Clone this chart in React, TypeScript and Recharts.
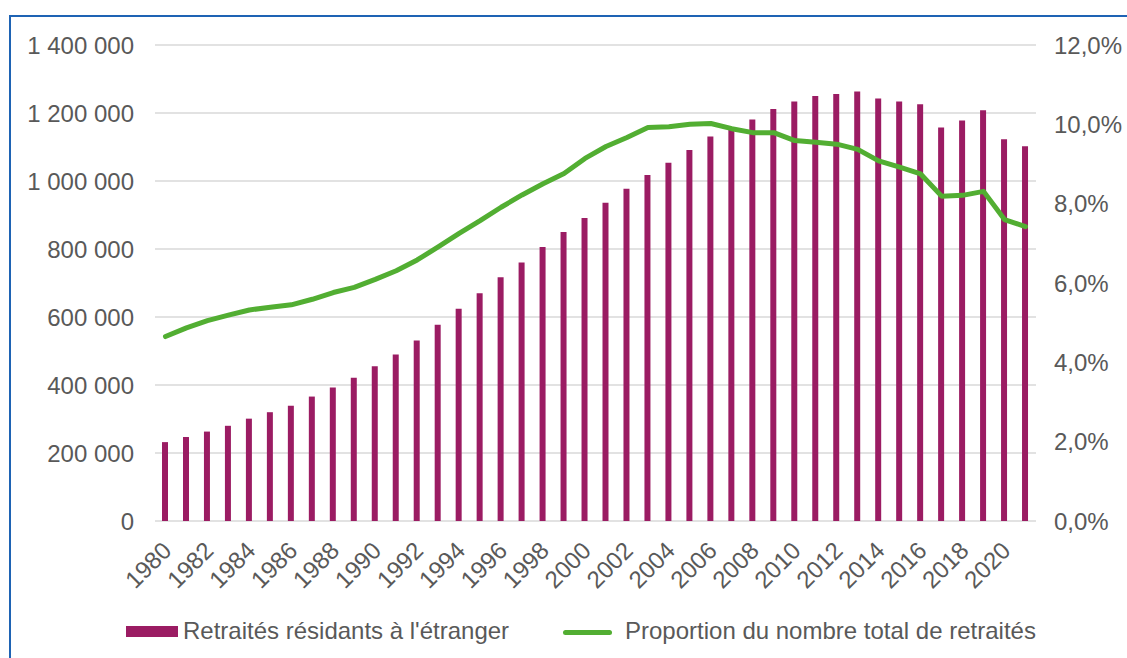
import { Bar, CartesianGrid, ComposedChart, Line, XAxis, YAxis } from 'recharts'

const years = [
  '1980', '1981', '1982', '1983', '1984', '1985', '1986', '1987', '1988', '1989',
  '1990', '1991', '1992', '1993', '1994', '1995', '1996', '1997', '1998', '1999',
  '2000', '2001', '2002', '2003', '2004', '2005', '2006', '2007', '2008', '2009',
  '2010', '2011', '2012', '2013', '2014', '2015', '2016', '2017', '2018', '2019',
  '2020', '2021',
]

// Retraités résidants à l'étranger
const retirees = [
  232000, 247000, 263000, 280000, 301000, 320000, 339000, 366000, 393000, 421000,
  455000, 490000, 531000, 577000, 624000, 670000, 717000, 760000, 806000, 850000,
  891000, 936000, 977000, 1018000, 1054000, 1091000, 1131000, 1153000, 1181000, 1212000,
  1234000, 1250000, 1256000, 1263000, 1243000, 1234000, 1226000, 1157000, 1178000, 1208000,
  1123000, 1102000,
]

// Proportion du nombre total de retraités (%)
const share = [
  4.65, 4.87, 5.05, 5.19, 5.32, 5.39, 5.45, 5.59, 5.76, 5.89,
  6.09, 6.31, 6.58, 6.91, 7.25, 7.57, 7.91, 8.22, 8.5, 8.76,
  9.14, 9.44, 9.67, 9.92, 9.94, 10.0, 10.02, 9.89, 9.79, 9.79,
  9.59, 9.55, 9.5, 9.37, 9.08, 8.92, 8.75, 8.19, 8.21, 8.31,
  7.6, 7.42,
]

const leftTicks = [0, 200000, 400000, 600000, 800000, 1000000, 1200000, 1400000]
const rightTicks = [0, 2, 4, 6, 8, 10, 12]

const data = years.map((year, i) => ({ year, retirees: retirees[i], share: share[i] }))

const BAR = '#9B1C63'
const GREEN = '#52AE32'
const TEXT = '#595959'
const FONT = '"Liberation Sans", Arial, sans-serif'
const FS = 24

const formatCount = (v: number) => String(v).replace(/\B(?=(\d{3})+(?!\d))/g, ' ')
const formatPct = (v: number) => `${v.toFixed(1).replace('.', ',')}%`

function YearTick({ x, y, payload }: any) {
  return (
    <g transform={`translate(${x + 7.5},${y + 31})`}>
      <text textAnchor="end" transform="rotate(-45)" fill={TEXT} fontSize={FS} fontFamily={FONT}>
        {payload.value}
      </text>
    </g>
  )
}

const legendText = {
  position: 'absolute' as const,
  top: 619,
  fontSize: FS,
  lineHeight: '24px',
  color: TEXT,
  whiteSpace: 'nowrap' as const,
}

export default function App() {
  return (
    <div
      style={{
        position: 'absolute',
        left: 0,
        top: 0,
        width: 1127,
        height: 658,
        overflow: 'hidden',
        background: '#ffffff',
        fontFamily: FONT,
      }}
    >
      <div
        style={{
          position: 'absolute',
          left: 9,
          top: 15,
          width: 1118,
          height: 643,
          boxSizing: 'border-box',
          borderLeft: '2px solid #1E63B4',
          borderTop: '2px solid #1E63B4',
        }}
      />
      <div style={{ position: 'absolute', left: 0, top: 0 }}>
        <ComposedChart
          width={1127}
          height={658}
          data={data}
          margin={{ top: 45, right: 0, bottom: 0, left: 0 }}
        >
          <CartesianGrid yAxisId="left" vertical={false} stroke="#D9D9D9" strokeWidth={1.5} />
          <XAxis
            dataKey="year"
            interval={1}
            height={137}
            axisLine={false}
            tickLine={false}
            tickSize={0}
            tickMargin={0}
            tick={<YearTick />}
          />
          <YAxis
            yAxisId="left"
            width={155}
            domain={[0, 1400000]}
            ticks={leftTicks}
            tickFormatter={formatCount}
            axisLine={false}
            tickLine={false}
            tickSize={0}
            tickMargin={21}
            tick={{ fill: TEXT, fontSize: FS, fontFamily: FONT }}
          />
          <YAxis
            yAxisId="right"
            orientation="right"
            width={91}
            domain={[0, 12]}
            ticks={rightTicks}
            tickFormatter={formatPct}
            axisLine={false}
            tickLine={false}
            tickSize={0}
            tickMargin={18}
            tick={{ fill: TEXT, fontSize: FS, fontFamily: FONT, textAnchor: 'start' }}
          />
          <Bar yAxisId="left" dataKey="retirees" fill={BAR} barSize={6} isAnimationActive={false} />
          <Line
            yAxisId="right"
            type="linear"
            dataKey="share"
            stroke={GREEN}
            strokeWidth={5}
            strokeLinecap="round"
            strokeLinejoin="round"
            dot={false}
            activeDot={false}
            isAnimationActive={false}
          />
        </ComposedChart>
      </div>
      {/* legend */}
      <div style={{ position: 'absolute', left: 126, top: 626, width: 52, height: 11, background: BAR }} />
      <span style={{ ...legendText, left: 183 }}>Retraités résidants à l'étranger</span>
      <div
        style={{
          position: 'absolute',
          left: 563,
          top: 629.5,
          width: 49,
          height: 5,
          borderRadius: 3,
          background: GREEN,
        }}
      />
      <span style={{ ...legendText, left: 625 }}>Proportion du nombre total de retraités</span>
    </div>
  )
}
